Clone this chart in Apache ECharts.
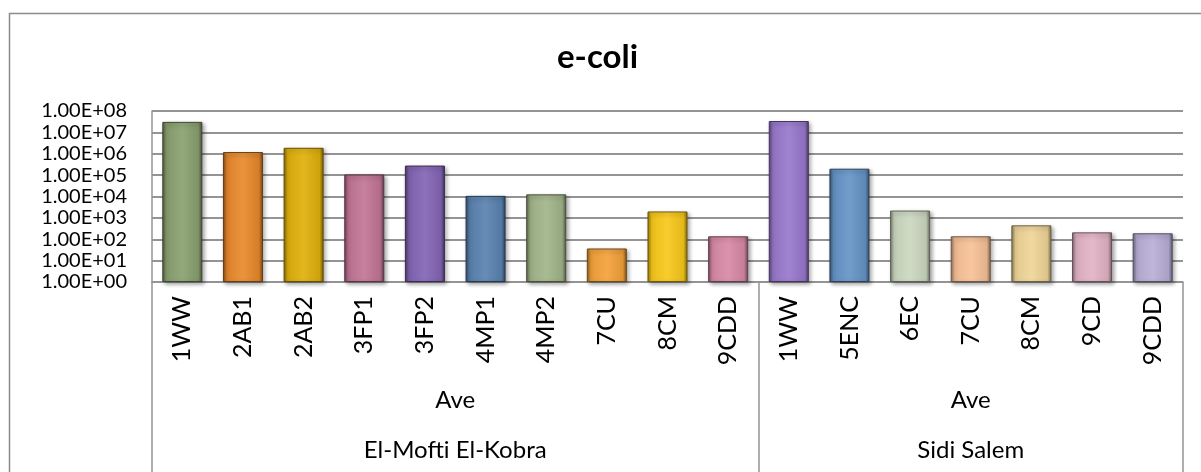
<!DOCTYPE html>
<html>
<head>
<meta charset="utf-8">
<title>e-coli</title>
<script src="https://cdn.jsdelivr.net/npm/echarts@6/dist/echarts.min.js"></script>
<style>
  html, body { margin: 0; padding: 0; background: #fff; }
  #main { width: 1201px; height: 472px; }
</style>
</head>
<body>
<div id="main"></div>
<script>
// sample points, left site first then right site
var samples = ['1WW', '2AB1', '2AB2', '3FP1', '3FP2', '4MP1', '4MP2', '7CU', '8CM', '9CDD',
               '1WW', '5ENC', '6EC', '7CU', '8CM', '9CD', '9CDD'];
var aveLabels = ['Ave', 'Ave'];
var sites = ['El-Mofti El-Kobra', 'Sidi Salem'];
var siteSizes = [10, 7];
// e-coli averages
var ecoli = [3.1e7, 1.2e6, 1.9e6, 1.07e5, 2.8e5, 1.07e4, 1.26e4, 37, 2.0e3, 137,
             3.4e7, 2.0e5, 2.2e3, 137, 447, 210, 190];
var barColors = ['#8aa070', '#e8892c', '#e0b00c', '#c27596', '#8465b5', '#5a82b0', '#a2b58a', '#f4a23a', '#f7c81a', '#d88aa6',
                 '#9878cc', '#6594c6', '#ccd8c0', '#f7c197', '#efd596', '#e2b3c5', '#b9aed6'];

var FONT = 'Lato';
var GREY = '#949494';

// lighten (f>0) or darken (f<0) a hex colour
function shade(hex, f) {
  var n = parseInt(hex.slice(1), 16);
  var r = n >> 16, g = (n >> 8) & 255, b = n & 255;
  function ch(c) {
    c = f < 0 ? c * (1 + f) : c + (255 - c) * f;
    return Math.max(0, Math.min(255, Math.round(c)));
  }
  return 'rgb(' + ch(r) + ',' + ch(g) + ',' + ch(b) + ')';
}

function barGradient(c) {
  return new echarts.graphic.LinearGradient(0, 0, 1, 0, [
    {offset: 0, color: shade(c, -0.45)},
    {offset: 0.1, color: shade(c, -0.05)},
    {offset: 0.5, color: shade(c, 0.08)},
    {offset: 0.9, color: shade(c, -0.08)},
    {offset: 1, color: shade(c, -0.5)}
  ]);
}

// where each site starts and where its labels sit
var starts = [], centers = [];
var acc = 0;
for (var i = 0; i < siteSizes.length; i++) {
  starts.push(acc);
  centers.push(acc + siteSizes[i] / 2);
  acc += siteSizes[i];
}

function groupLabel(list) {
  return function (v) {
    var k = centers.indexOf(v);
    return k >= 0 ? list[k] : '';
  };
}

function expLabel(v) {
  var e = Math.round(Math.log(v) / Math.LN10);
  return '1.00E+' + (e < 10 ? '0' : '') + e;
}

var myChart = echarts.init(document.getElementById('main'));

var option = {
  animation: false,
  title: {
    text: 'e-coli',
    left: 552,
    top: 36,
    textStyle: {fontFamily: FONT, fontSize: 33, fontWeight: 'bold', color: '#000'}
  },
  graphic: [{
    type: 'rect',
    shape: {x: 9.5, y: 13.5, width: 1220, height: 480},
    style: {fill: 'none', stroke: '#8c8c8c', lineWidth: 1.5}
  }],
  grid: {left: 152, right: 18, top: 111, bottom: 190},
  xAxis: [
    {
      type: 'category',
      data: samples,
      position: 'bottom',
      axisLine: {lineStyle: {color: GREY, width: 1.5}},
      axisTick: {
        show: true,
        interval: function (idx) { return starts.indexOf(idx) >= 0; },
        length: 195,
        lineStyle: {color: GREY, width: 1.5}
      },
      axisLabel: {
        interval: 0,
        rotate: 90,
        margin: 14,
        fontFamily: FONT,
        fontSize: 25,
        color: '#000'
      },
      splitLine: {show: false}
    },
    {
      type: 'value',
      position: 'bottom',
      min: 0,
      max: samples.length,
      interval: 0.5,
      axisLine: {show: false},
      axisTick: {show: false},
      splitLine: {show: false},
      axisLabel: {
        margin: 106,
        fontFamily: FONT,
        fontSize: 24,
        color: '#000',
        formatter: groupLabel(aveLabels)
      }
    },
    {
      type: 'value',
      position: 'bottom',
      min: 0,
      max: samples.length,
      interval: 0.5,
      axisLine: {show: false},
      axisTick: {show: false},
      splitLine: {show: false},
      axisLabel: {
        margin: 156,
        fontFamily: FONT,
        fontSize: 24,
        color: '#000',
        formatter: groupLabel(sites)
      }
    }
  ],
  yAxis: {
    type: 'log',
    logBase: 10,
    min: 1,
    max: 1e8,
    splitNumber: 8,
    axisLine: {show: true, lineStyle: {color: GREY, width: 1.5}},
    axisTick: {show: false},
    axisLabel: {
      margin: 25,
      fontFamily: FONT,
      fontSize: 20,
      color: '#000',
      showMinLabel: true,
      showMaxLabel: true,
      formatter: expLabel
    },
    splitLine: {lineStyle: {color: GREY, width: 2}}
  },
  series: [{
    type: 'bar',
    xAxisIndex: 0,
    barWidth: '66%',
    data: ecoli.map(function (v, i) {
      return {
        value: v,
        itemStyle: {
          color: barGradient(barColors[i]),
          borderColor: shade(barColors[i], -0.55),
          borderWidth: 1,
          shadowBlur: 4,
          shadowOffsetX: 2,
          shadowOffsetY: 2,
          shadowColor: 'rgba(0,0,0,0.35)'
        }
      };
    })
  }]
};

myChart.setOption(option);
</script>
</body>
</html>
